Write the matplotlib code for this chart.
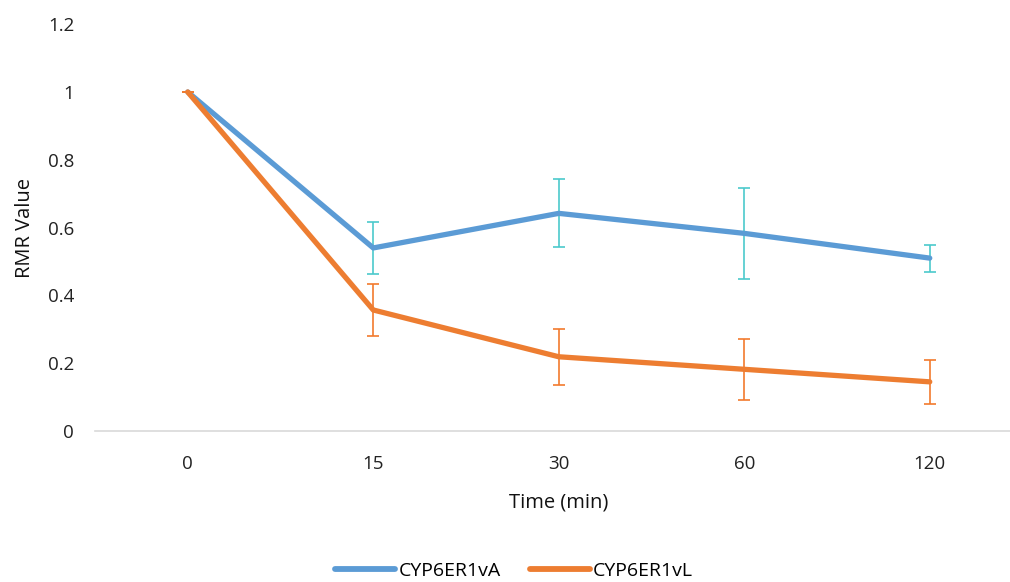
import numpy as np
import matplotlib
matplotlib.use('Agg')
import matplotlib.pyplot as plt

plt.rcParams['font.family'] = ['Open Sans', 'DejaVu Sans']

# data
times = ['0', '15', '30', '60', '120']
vA = [1.0, 0.54, 0.642, 0.583, 0.51]
vA_err = [0.0, 0.077, 0.10, 0.134, 0.04]
vL = [1.0, 0.357, 0.219, 0.182, 0.145]
vL_err = [0.0, 0.077, 0.083, 0.09, 0.065]

blue = '#5B9BD5'
orange = '#ED7D31'

fig = plt.figure(figsize=(10.1, 5.82), dpi=100)
ax = fig.add_axes([95 / 1010, 151 / 582, 927.5 / 1010, 406.8 / 582])

x = np.arange(len(times))
ax.errorbar(x, vA, yerr=vA_err, color=blue, lw=3.8, ecolor='#4CC9CC',
            elinewidth=1.2, capsize=4.5, capthick=1.2, label='CYP6ER1vA',
            solid_capstyle='round', zorder=2)
ax.errorbar(x, vL, yerr=vL_err, color=orange, lw=3.8, ecolor='#F27A2E',
            elinewidth=1.2, capsize=4.5, capthick=1.2, label='CYP6ER1vL',
            solid_capstyle='round', zorder=3)

ax.set_xlim(-0.5, 4.5)
ax.set_ylim(0, 1.2)
ax.set_xticks(x)
ax.set_xticklabels(times)
ax.set_yticks(np.arange(0, 1.21, 0.2))
ax.set_yticklabels(['0', '0.2', '0.4', '0.6', '0.8', '1', '1.2'])
ax.tick_params(length=0, labelsize=13.5, colors='#222222')
ax.tick_params(axis='x', pad=17)
ax.tick_params(axis='y', pad=15)
for s in ['top', 'right', 'left']:
    ax.spines[s].set_visible(False)
ax.spines['bottom'].set_color('#D9D9D9')
ax.spines['bottom'].set_linewidth(1.2)

ax.set_xlabel('Time (min)', fontsize=14.5, labelpad=14, color='#111111')
ax.set_ylabel('RMR Value', fontsize=14.5, labelpad=9, color='#111111')

handles = [plt.Line2D([], [], color=blue, lw=4.2, solid_capstyle='round'),
           plt.Line2D([], [], color=orange, lw=4.2, solid_capstyle='round')]
fig.legend(handles, ['CYP6ER1vA', 'CYP6ER1vL'], loc='center',
           bbox_to_anchor=(514 / 1010, 1 - 571 / 582), ncol=2, frameon=False,
           fontsize=14, handlelength=3.1, handletextpad=0.15, columnspacing=1.5)

fig.savefig('out.png', dpi=100)
